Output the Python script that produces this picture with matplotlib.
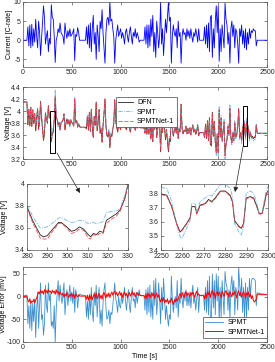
import numpy as np
import matplotlib
matplotlib.use('Agg')
import matplotlib.pyplot as plt
from matplotlib.ticker import FormatStrFormatter
from matplotlib.patches import Rectangle
from matplotlib.text import Annotation

plt.rcParams['font.family'] = ['Liberation Sans', 'DejaVu Sans']
plt.rcParams['font.size'] = 5
plt.rcParams['axes.unicode_minus'] = False

# ---------------- data (sampled every 10 s, 0 .. 2500 s) ----------------
time_s = np.arange(0, 2501, 10)

current_c = [
    0, 0, 0, 0, 0, 3.5, -1.5, 4, -2, 4.2,
    -1.5, 3, -0.5, 5.5, 1, -2, 5, 2, -4, 0.5,
    4.5, 9, 6, -1, 1, 2.5, -3, 0.5, -1, 9.3,
    6, 5.5, 1, -5.8, 0, 1, 3, 2, 4.5, 2,
    1.5, 1, -1, 4.5, 2, 0.5, 2.5, 1, 3, 1,
    1.5, 2, 3, -5.3, 1.5, 1, 3.3, 2, 0, 0,
    0, 0, 0, 0, 0, 3.5, -1, 4, -2, 4.5,
    -3, 3, 6.5, -1, 2, -5, 4, 1, -3, 5,
    3, 8, 2, -2, -6, 2, 5.5, 6, 4, 10,
    5, 5.5, 3, 1, -6, 0, 2, 4, 1, 2,
    3, 0.5, 2, 1, -1, 2, 3, 1, -0.5, 2,
    3.5, 1, -1, 2, 1, 3, 0.5, 2, 1, -0.5,
    0, 0, 0, 0, 0, 3.5, -1, 4, -2, 4,
    -1.5, 5.5, 1, 6.5, -3, 2, -4.5, 5, 2, -2,
    1, 10, -1, 3, -4, 1, 5.5, 2, 6, 10,
    5, 6, -6, 1, 4, 2, 1, 3, -2, 5,
    1, 2, -6, 1, 3, 1.5, 2, 0, 3, 1,
    2.5, 0.5, 3, 1, -0.5, 2, 1, 3, 1.5, -0.5,
    3, 0, 0, 0, 0, 0, 3.5, -1, 4, -2,
    4.5, -3, 6, 6.5, -4.5, 3, -2, 5, 9, 2,
    9, -5.5, 3, -3, 4, 1, -2, 9.7, 5.5, 4,
    -1, 2, -6, 3, 5, 1, 4, -2, 3, 2,
    -1, -6, 3, 1, 4, -1, 2.5, -2, 3, -2.5,
    2, -1, 3, 0.5, 2.5, 2, 3, 2.5, 2.5, -1.5,
    0, 0, 0, 0, 0, 0, 0, 0, 0, 0,
    0,
]

voltage_dfn = [
    4.15, 4.15, 4.15, 4.15, 4.15, 3.77, 4.02, 3.75, 4.05, 3.74,
    4.01, 3.79, 3.95, 3.67, 3.88, 4.04, 3.70, 3.83, 4.16, 3.90,
    3.71, 3.51, 3.64, 3.97, 3.87, 3.80, 4.09, 3.89, 3.97, 3.49,
    3.63, 3.65, 3.86, 4.25, 3.90, 3.86, 3.77, 3.81, 3.70, 3.81,
    3.82, 3.85, 3.95, 3.69, 3.80, 3.87, 3.78, 3.85, 3.76, 3.85,
    3.81, 3.79, 3.75, 4.20, 3.81, 3.84, 3.73, 3.79, 3.74, 3.73,
    3.73, 3.73, 3.73, 3.73, 3.73, 3.70, 3.92, 3.68, 3.98, 3.66,
    4.03, 3.72, 3.56, 3.91, 3.76, 4.15, 3.67, 3.81, 4.03, 3.63,
    3.71, 3.48, 3.75, 3.96, 4.20, 3.75, 3.59, 3.57, 3.66, 3.39,
    3.61, 3.58, 3.70, 3.79, 4.19, 3.83, 3.74, 3.65, 3.79, 3.74,
    3.69, 3.80, 3.73, 3.78, 3.88, 3.73, 3.69, 3.78, 3.85, 3.73,
    3.65, 3.77, 3.87, 3.72, 3.77, 3.68, 3.79, 3.72, 3.77, 3.84,
    3.72, 3.72, 3.72, 3.72, 3.72, 3.63, 3.85, 3.61, 3.91, 3.61,
    3.87, 3.53, 3.74, 3.49, 3.96, 3.69, 4.05, 3.56, 3.69, 3.90,
    3.73, 3.32, 3.83, 3.64, 4.01, 3.73, 3.52, 3.68, 3.50, 3.32,
    3.54, 3.49, 4.12, 3.72, 3.58, 3.67, 3.72, 3.63, 3.88, 3.54,
    3.71, 3.66, 4.11, 3.71, 3.62, 3.68, 3.66, 3.75, 3.62, 3.71,
    3.63, 3.72, 3.61, 3.70, 3.77, 3.65, 3.70, 3.61, 3.67, 3.77,
    3.59, 3.64, 3.64, 3.64, 3.64, 3.64, 3.56, 3.78, 3.54, 3.84,
    3.51, 3.89, 3.44, 3.42, 3.98, 3.58, 3.83, 3.49, 3.31, 3.62,
    3.30, 4.03, 3.57, 3.88, 3.52, 3.66, 3.82, 3.26, 3.45, 3.52,
    3.75, 3.60, 4.05, 3.56, 3.47, 3.65, 3.51, 3.81, 3.56, 3.60,
    3.74, 4.04, 3.55, 3.64, 3.50, 3.74, 3.57, 3.80, 3.55, 3.83,
    3.58, 3.73, 3.54, 3.65, 3.56, 3.58, 3.54, 3.56, 3.56, 3.76,
    3.63, 3.63, 3.63, 3.63, 3.63, 3.63, 3.63, 3.63, 3.63, 3.63,
    3.63,
]

# voltage error (DFN - model) in mV
error_spmt_mv = [
    2, 2, 2, 3, 3, -60, -20, -70, -10, -75,
    -15, -55, -5, -90, -30, 10, -70, -20, 30, -50,
    -40, -85, -60, 25, -20, -35, 30, -10, 5, -65,
    -55, -70, -20, -100, -30, 5, 35, -10, 25, 0,
    -15, 10, 30, -40, -5, 15, -20, 5, 25, -10,
    10, -15, 20, -35, 15, 5, -25, 0, 5, 5,
    3, 3, 3, 2, 2, -45, -10, -50, 5, -40,
    20, -35, -55, 10, -20, 25, -45, -5, 20, -60,
    -30, -65, -15, 15, 30, -25, -50, -45, -30, -60,
    -35, -40, -20, 5, 30, -5, -15, -35, 0, -20,
    -25, 5, -15, 0, 20, -10, -30, -5, 15, -20,
    -35, 0, 20, -10, -5, -25, 10, -15, 0, 15,
    2, 2, 2, 2, 2, -30, 15, -40, 20, -35,
    25, -45, 0, -50, 35, -20, 40, -40, -10, 30,
    -5, -60, 20, -30, 40, 0, -50, -20, -45, -65,
    -40, -50, 45, -5, -35, -15, 0, -25, 35, -45,
    0, -15, 40, -5, -25, 10, -10, 15, -20, 5,
    -20, 10, -25, 5, 25, -15, 0, -30, -5, 20,
    -35, 3, 3, 3, 3, 3, -30, 20, -35, 35,
    -40, 45, -50, -45, 50, -25, 35, -40, 50, -10,
    45, -55, 20, -45, 35, 0, -40, 55, 30, 20,
    -30, 15, -50, 25, 45, 5, 35, -40, 20, 10,
    -30, 65, 25, 0, 40, -35, 20, -50, 30, -45,
    20, -30, 40, 0, 35, 40, 40, 38, 35, -20,
    8, 8, 7, 7, 6, 6, 6, 5, 5, 5,
    5,
]

error_net_mv = [
    0, 0, 0, 1, 1, -8, -12, -5, -15, -10,
    -12, -6, -14, -8, -3, 4, 10, 6, 14, 8,
    12, 5, 15, 9, 13, 7, 16, 10, 12, 6,
    14, 9, 12, 5, 15, 8, 11, 4, 10, 6,
    3, 8, -2, 6, 1, 9, 4, -3, 5, 2,
    7, 0, 5, -4, 6, 2, -1, 4, 1, 1,
    1, 1, 1, 1, 1, -6, 3, -8, 2, -5,
    4, -7, 0, 6, -3, 8, -5, 2, 7, -4,
    3, -6, 5, 9, 2, -3, 6, 0, 8, -2,
    5, 10, 3, 8, 12, 4, 9, 1, 6, 11,
    3, 8, -2, 6, 10, 2, 7, -3, 5, 9,
    1, 6, 11, 3, 8, -1, 5, 9, 2, 7,
    2, 2, 2, 2, 2, -4, 6, -5, 8, 0,
    5, -3, 9, 1, 7, -4, 3, 8, -2, 4,
    -6, -12, -4, -10, -2, -14, -8, -12, -5, -16,
    -9, -13, -3, -11, -18, -7, -12, -4, -10, -6,
    2, 7, -3, 9, 4, -2, 6, 11, 1, 8,
    5, -1, 9, 3, 10, 4, -2, 7, 12, 3,
    6, 2, 2, 2, 2, 2, -5, 8, -3, 10,
    4, 12, -2, 8, 14, 3, 9, -4, 7, 11,
    2, 10, 5, -3, 12, 6, 0, 9, 13, 4,
    8, -2, 11, 5, -1, 9, 3, 12, 6, -3,
    7, 13, 2, 9, -2, 6, 11, 4, -4, 8,
    3, 10, -1, 6, -5, 2, -8, -12, -10, -6,
    5, 5, 5, 5, 4, 4, 4, 4, 4, 4,
    4,
]

# zoomed window 1 (280-330 s)
zoom1_t = [280, 283, 286.5, 288, 290, 292.3, 295.6, 297, 299.7, 302, 303.8, 306, 308,
           310.3, 311.5, 312.8, 314.4, 316, 317.7, 319.3, 321.8, 324.3, 326, 328.4, 330]
zoom1_dfn = [3.79, 3.66, 3.54, 3.52, 3.53, 3.58, 3.65, 3.65, 3.61, 3.57, 3.58, 3.61, 3.59,
             3.54, 3.52, 3.55, 3.54, 3.57, 3.56, 3.67, 3.70, 3.73, 3.76, 3.87, 4.00]
zoom1_spmt = [3.81, 3.70, 3.60, 3.60, 3.61, 3.64, 3.69, 3.695, 3.67, 3.65, 3.655, 3.67, 3.665,
              3.64, 3.645, 3.65, 3.64, 3.645, 3.66, 3.74, 3.75, 3.755, 3.77, 3.90, 4.00]
zoom1_net = [3.78, 3.64, 3.51, 3.50, 3.50, 3.56, 3.64, 3.645, 3.60, 3.55, 3.56, 3.59, 3.58,
             3.51, 3.50, 3.54, 3.53, 3.55, 3.55, 3.64, 3.68, 3.71, 3.75, 3.86, 3.99]

# zoomed window 2 (2250-2300 s)
zoom2_t = [2250, 2252.7, 2255, 2257.3, 2258.9, 2259.7, 2262, 2263.6, 2264.4, 2266, 2266.7,
           2268.3, 2270.6, 2272.2, 2273.8, 2275.3, 2277.7, 2280, 2282.3, 2283.4, 2284.4,
           2286.3, 2287.5, 2288.6, 2289.8, 2291.7, 2293.3, 2294.8, 2295.9, 2297.2, 2298,
           2299.2, 2300]
zoom2_dfn = [3.80, 3.79, 3.71, 3.59, 3.53, 3.54, 3.59, 3.63, 3.71, 3.71, 3.66,
             3.72, 3.73, 3.76, 3.745, 3.77, 3.82, 3.82, 3.79, 3.745, 3.61,
             3.57, 3.555, 3.59, 3.77, 3.78, 3.77, 3.71, 3.66, 3.66, 3.71,
             3.80, 3.82]
zoom2_spmt = [3.845, 3.84, 3.745, 3.58, 3.495, 3.48, 3.555, 3.61, 3.73, 3.73, 3.67,
              3.745, 3.77, 3.79, 3.785, 3.815, 3.865, 3.865, 3.84, 3.78, 3.59,
              3.53, 3.505, 3.565, 3.805, 3.82, 3.805, 3.73, 3.66, 3.665, 3.73,
              3.83, 3.85]
zoom2_net = [3.795, 3.785, 3.705, 3.585, 3.525, 3.535, 3.585, 3.625, 3.705, 3.705, 3.655,
             3.715, 3.725, 3.755, 3.74, 3.765, 3.815, 3.815, 3.785, 3.74, 3.605,
             3.565, 3.55, 3.585, 3.765, 3.775, 3.765, 3.705, 3.655, 3.655, 3.705,
             3.795, 3.815]

current_c = np.array(current_c)
voltage_dfn = np.array(voltage_dfn)
error_spmt_mv = np.array(error_spmt_mv)
error_net_mv = np.array(error_net_mv)
voltage_spmt = voltage_dfn - error_spmt_mv / 1000.0
voltage_net = voltage_dfn - error_net_mv / 1000.0

# ---------------- styling ----------------
C_SPMT_LIGHT = '#72b4e6'
C_SPMT_ERR = '#3a8fd0'
C_NET = '#ff2a2a'
DASHDOT = (0, (5, 1.5, 1.2, 1.5))
DASHED = (0, (5, 2))

W, H = 275, 362
fig = plt.figure(figsize=(W / 100, H / 100), dpi=100)


def px_axes(x0, y0, x1, y1):
    return fig.add_axes([x0 / W, (H - y1) / H, (x1 - x0) / W, (y1 - y0) / H])


def style(ax):
    ax.tick_params(direction='in', length=2, width=0.4, labelsize=5, pad=1.5,
                   top=True, right=True, colors='#262626')
    for s in ax.spines.values():
        s.set_linewidth(0.5)
        s.set_color('#555555')
    ax.yaxis.set_major_formatter(FormatStrFormatter('%g'))


def legend(ax, hl, **kw):
    leg = ax.legend(fontsize=5, handlelength=hl, handletextpad=0.6, borderpad=0.35,
                    labelspacing=0.35, frameon=True, fancybox=False, edgecolor='#444444',
                    framealpha=1, borderaxespad=0, **kw)
    leg.get_frame().set_linewidth(0.5)
    return leg


# panel 1: current
ax1 = px_axes(23, 2, 267, 67)
ax1.plot(time_s, current_c, color='#0000ff', lw=0.6)
ax1.set_xlim(0, 2500)
ax1.set_ylim(-7, 10)
ax1.set_yticks([-5, 0, 5, 10])
ax1.set_xticks(range(0, 2501, 500))
ax1.set_ylabel('Current [C-rate]', fontsize=5)
ax1.yaxis.set_label_coords(-0.042, 0.5)
style(ax1)

# panel 2: voltage
ax2 = px_axes(23, 87, 267, 159)
ax2.plot(time_s, voltage_dfn, color='#222222', lw=0.6, label='DFN')
ax2.plot(time_s, voltage_spmt, color=C_SPMT_LIGHT, lw=0.6, ls=DASHDOT, label='SPMT')
ax2.plot(time_s, voltage_net, color=C_NET, lw=0.6, ls=DASHED, alpha=0.85, label='SPMTNet-1')
ax2.add_patch(Rectangle((280, 3.3), 50, 0.7, fill=False, ec='black', lw=0.7, zorder=5))
ax2.add_patch(Rectangle((2250, 3.42), 50, 0.67, fill=False, ec='black', lw=0.7, zorder=5))
ax2.set_xlim(0, 2500)
ax2.set_ylim(3.2, 4.4)
ax2.set_yticks([3.2, 3.4, 3.6, 3.8, 4.0, 4.2, 4.4])
ax2.set_xticks(range(0, 2501, 500))
ax2.set_ylabel('Voltage [V]', fontsize=5)
ax2.yaxis.set_label_coords(-0.046, 0.5)
style(ax2)
legend(ax2, 2.1, loc='upper left', bbox_to_anchor=(0.381, 0.865))

# panel 3: zoom 280-330
ax3 = px_axes(27, 184, 128, 250)
ax3.plot(zoom1_t, zoom1_dfn, color='#222222', lw=0.6)
ax3.plot(zoom1_t, zoom1_spmt, color=C_SPMT_LIGHT, lw=0.6, ls=DASHDOT)
ax3.plot(zoom1_t, zoom1_net, color=C_NET, lw=0.6, ls=DASHED, alpha=0.85)
ax3.set_xlim(280, 330)
ax3.set_ylim(3.4, 4.0)
ax3.set_yticks([3.4, 3.6, 3.8, 4.0])
ax3.set_xticks(range(280, 331, 10))
ax3.set_ylabel('Voltage [V]', fontsize=5)
ax3.yaxis.set_label_coords(-0.19, 0.5)
style(ax3)
ax3.tick_params(axis='x', pad=2.2)

# panel 4: zoom 2250-2300
ax4 = px_axes(161, 184, 268, 250)
ax4.plot(zoom2_t, zoom2_dfn, color='#222222', lw=0.6)
ax4.plot(zoom2_t, zoom2_spmt, color=C_SPMT_LIGHT, lw=0.6, ls=DASHDOT)
ax4.plot(zoom2_t, zoom2_net, color=C_NET, lw=0.6, ls=DASHED, alpha=0.85)
ax4.set_xlim(2250, 2300)
ax4.set_ylim(3.4, 3.87)
ax4.set_yticks([3.4, 3.5, 3.6, 3.7, 3.8])
ax4.set_xticks(range(2250, 2301, 10))
style(ax4)
ax4.tick_params(axis='x', pad=2.2)

# panel 5: voltage error
ax5 = px_axes(23, 267, 267, 342)
ax5.plot(time_s, error_spmt_mv, color=C_SPMT_ERR, lw=0.6, label='SPMT')
ax5.plot(time_s, error_net_mv, color='#ff0000', lw=0.7, label='SPMTNet-1')
ax5.set_xlim(0, 2500)
ax5.set_ylim(-100, 65)
ax5.set_yticks([-100, -50, 0, 50])
ax5.set_xticks(range(0, 2501, 500))
ax5.set_ylabel('Voltage Error [mV]', fontsize=5)
ax5.yaxis.set_label_coords(-0.066, 0.5)
ax5.set_xlabel('Time [s]', fontsize=5, labelpad=1.5)
style(ax5)
legend(ax5, 2.6, loc='lower right', bbox_to_anchor=(1.0, 0.05))

# arrows linking zoom boxes to zoom panels (figure pixel coords, origin bottom-left)
for start, end in [((57, H - 153), (80, H - 193)), ((243, H - 147), (235, H - 192))]:
    ann = Annotation('', xy=end, xytext=start, xycoords='figure pixels',
                     textcoords='figure pixels',
                     arrowprops=dict(arrowstyle='-|>', color='#222222', lw=0.5,
                                     mutation_scale=7, shrinkA=0, shrinkB=0))
    ann.set_zorder(10)
    fig.add_artist(ann)

fig.savefig('out.png', dpi=100)
